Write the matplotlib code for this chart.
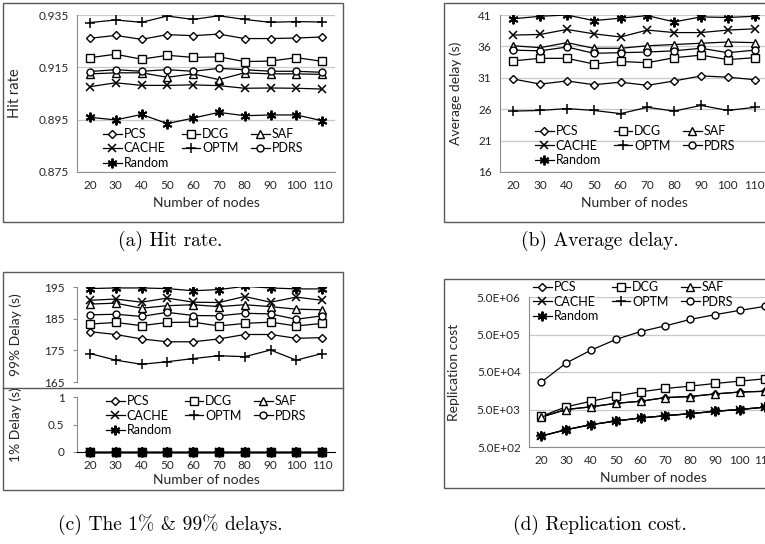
import matplotlib
matplotlib.use("Agg")
from matplotlib import pyplot as plt
from matplotlib.patches import Rectangle
from matplotlib.lines import Line2D
from matplotlib.ticker import FixedLocator, NullLocator
import numpy as np

plt.rcParams["font.family"] = ["Lato", "DejaVu Sans"]

W, H = 765, 544

nodes = [20, 30, 40, 50, 60, 70, 80, 90, 100, 110]
series = ["PCS", "DCG", "SAF", "CACHE", "OPTM", "PDRS", "Random"]

# (a) hit rate
hit_pcs = [0.9261, 0.9272, 0.9257, 0.9275, 0.9271, 0.9277, 0.9260, 0.9260, 0.9262, 0.9266]
hit_dcg = [0.9187, 0.9200, 0.9181, 0.9196, 0.9188, 0.9190, 0.9172, 0.9174, 0.9187, 0.9173]
hit_saf = [0.9125, 0.9129, 0.9129, 0.9112, 0.9125, 0.9103, 0.9129, 0.9125, 0.9125, 0.9123]
hit_cache = [0.9076, 0.9091, 0.9081, 0.9081, 0.9083, 0.9080, 0.9070, 0.9071, 0.9070, 0.9067]
hit_optm = [0.9321, 0.9331, 0.9322, 0.9346, 0.9333, 0.9347, 0.9333, 0.9322, 0.9325, 0.9323]
hit_pdrs = [0.9134, 0.9141, 0.9135, 0.9141, 0.9135, 0.9146, 0.9141, 0.9135, 0.9135, 0.9131]
hit_random = [0.8959, 0.8949, 0.8970, 0.8935, 0.8956, 0.8978, 0.8965, 0.8968, 0.8968, 0.8946]

# (b) average delay
avg_pcs = [30.8, 30.0, 30.5, 29.9, 30.3, 29.8, 30.5, 31.3, 31.1, 30.7]
avg_dcg = [33.7, 34.1, 34.1, 33.2, 33.6, 33.4, 34.2, 34.6, 33.9, 34.2]
avg_saf = [36.1, 35.8, 36.6, 35.7, 35.7, 36.1, 36.3, 36.5, 36.7, 36.6]
avg_cache = [37.8, 37.9, 38.7, 38.0, 37.5, 38.6, 38.2, 38.2, 38.6, 38.8]
avg_optm = [25.7, 25.8, 26.1, 25.8, 25.3, 26.3, 25.7, 26.6, 25.8, 26.3]
avg_pdrs = [35.4, 35.3, 35.9, 34.9, 35.0, 35.1, 35.3, 35.7, 35.0, 35.4]
avg_random = [40.4, 40.8, 41.0, 40.1, 40.5, 40.9, 39.9, 40.7, 40.6, 40.8]

# (c) 99% delay
d99_pcs = [180.9, 180.0, 178.6, 177.7, 177.7, 178.6, 180.0, 180.0, 178.8, 179.0]
d99_dcg = [183.3, 183.8, 182.8, 183.8, 183.9, 182.7, 183.5, 183.9, 182.7, 183.5]
d99_saf = [189.6, 189.9, 188.3, 189.1, 189.4, 188.8, 189.4, 188.8, 188.0, 187.8]
d99_cache = [190.8, 191.2, 190.2, 191.5, 190.2, 190.1, 192.0, 190.2, 191.8, 190.8]
d99_optm = [174.0, 171.9, 170.6, 171.4, 172.4, 173.3, 173.0, 175.1, 171.9, 174.0]
d99_pdrs = [186.2, 186.4, 185.7, 187.0, 186.0, 185.9, 186.7, 186.5, 184.8, 185.9]
d99_random = [194.5, 194.7, 194.7, 194.5, 193.8, 194.2, 195.2, 194.7, 194.4, 194.4]

# (c) 1% delay
d1_all = [0, 0, 0, 0, 0, 0, 0, 0, 0, 0]

# (d) replication cost
rep_pcs = [3150, 5000, 5900, 7300, 8300, 10400, 11100, 13000, 14600, 15300]
rep_dcg = [3300, 5900, 8300, 11300, 14800, 18200, 21000, 24700, 28500, 32900]
rep_saf = [3150, 5000, 5900, 7300, 8300, 10400, 11100, 13000, 14600, 15300]
rep_cache = [980, 1450, 1970, 2470, 2970, 3420, 3870, 4480, 5000, 5770]
rep_optm = [980, 1450, 1970, 2470, 2970, 3420, 3870, 4480, 5000, 5770]
rep_pdrs = [27000, 87000, 191000, 368000, 600000, 851000, 1260000, 1690000, 2200000, 2800000]
rep_random = [980, 1450, 1970, 2470, 2970, 3420, 3870, 4480, 5000, 5770]

markers = {
    "PCS": dict(marker="D", ms=4.5, mfc="white"),
    "DCG": dict(marker="s", ms=6, mfc="white"),
    "SAF": dict(marker="^", ms=6, mfc="white"),
    "CACHE": dict(marker="x", ms=6, mew=1.1),
    "OPTM": dict(marker="+", ms=7, mew=1.1),
    "PDRS": dict(marker="o", ms=5, mfc="white"),
    "Random": dict(marker=(6, 2, 0), ms=7, mew=1.4),
}

TXT = "#262626"
GRID = "#c8c8c8"
AXC = "#8c8c8c"


def rect(l, t, r, b):
    return [l / W, 1 - b / H, (r - l) / W, (b - t) / H]


def style(ax, grid=True):
    for s in ["top", "right"]:
        ax.spines[s].set_visible(False)
    ax.spines["left"].set_color(AXC)
    ax.spines["bottom"].set_color(AXC)
    ax.set_xlim(-0.5, 9.5)
    ax.set_xticks(range(10))
    ax.set_xticklabels([str(n) for n in nodes])
    ax.tick_params(axis="both", length=0, labelsize=8.5, colors=TXT, pad=6)
    if grid:
        ax.yaxis.grid(True, color=GRID, lw=0.9)
        ax.set_axisbelow(True)


def draw(ax, data, clip=True):
    for name, vals in zip(series, data):
        ax.plot(range(10), vals, color="black", lw=0.9, mec="black",
                clip_on=clip, label=name, **markers[name])


def legend(ax, x, y):
    h, l = ax.get_legend_handles_labels()
    order = [0, 3, 6, 1, 4, 2, 5]
    ax.legend([h[i] for i in order], [l[i] for i in order], ncol=3,
              loc="upper left", bbox_to_anchor=(x / W, 1 - y / H),
              bbox_transform=fig.transFigure, frameon=False, fontsize=9,
              handlelength=1.5, handletextpad=0.15, columnspacing=1.0,
              labelspacing=0.2, borderpad=0, borderaxespad=0)


fig = plt.figure(figsize=(W / 100, H / 100), dpi=100)

# frames
for (l, t, r, b) in [(3, 3, 343, 222), (444, 3, 790, 222),
                     (3, 272, 343, 490), (444, 279, 790, 488)]:
    fig.add_artist(Rectangle((l / W, 1 - b / H), (r - l) / W, (b - t) / H,
                             transform=fig.transFigure, fill=False,
                             ec="#595959", lw=1.0))

# (a)
ax = fig.add_axes(rect(77, 15, 335, 172))
draw(ax, [hit_pcs, hit_dcg, hit_saf, hit_cache, hit_optm, hit_pdrs, hit_random])
style(ax)
ax.set_ylim(0.875, 0.935)
ax.set_yticks([0.875, 0.895, 0.915, 0.935])
ax.set_yticklabels(["0.875", "0.895", "0.915", "0.935"])
ax.set_ylabel("Hit rate", fontsize=10.5, color=TXT)
ax.yaxis.set_label_coords((22 - 77) / 258, 0.5)
ax.set_xlabel("Number of nodes", fontsize=10, color=TXT, labelpad=4)
legend(ax, 103, 128)

# (b)
ax = fig.add_axes(rect(500, 15, 768, 172))
draw(ax, [avg_pcs, avg_dcg, avg_saf, avg_cache, avg_optm, avg_pdrs, avg_random])
style(ax)
ax.set_ylim(16, 41)
ax.set_yticks([16, 21, 26, 31, 36, 41])
ax.set_ylabel("Average delay (s)", fontsize=10, color=TXT)
ax.yaxis.set_label_coords((462 - 500) / 268, 0.5)
ax.set_xlabel("Number of nodes", fontsize=10, color=TXT, labelpad=4)
legend(ax, 535, 125)

# (c) upper
ax = fig.add_axes(rect(77, 287, 335, 382))
draw(ax, [d99_pcs, d99_dcg, d99_saf, d99_cache, d99_optm, d99_pdrs, d99_random])
style(ax, grid=False)
ax.spines["bottom"].set_visible(False)
ax.set_xticks([])
ax.set_ylim(165, 195)
ax.set_yticks([165, 175, 185, 195])
ax.tick_params(axis="y", length=3, color=AXC, direction="out")
ax.set_ylabel("99% Delay (s)", fontsize=10, color=TXT)
ax.yaxis.set_label_coords((22 - 77) / 258, 0.5)
fig.add_artist(Line2D([3 / W, 343 / W], [1 - 388 / H, 1 - 388 / H],
                      transform=fig.transFigure, color="#595959", lw=1.0))

# (c) lower
ax = fig.add_axes(rect(77, 397, 335, 452))
draw(ax, [d1_all] * 7, clip=False)
style(ax, grid=False)
ax.spines["bottom"].set_color("black")
ax.set_ylim(0, 1)
ax.set_yticks([0, 0.5, 1])
ax.set_yticklabels(["0", "0.5", "1"])
ax.tick_params(axis="y", length=3, color=AXC, direction="out")
ax.set_ylabel("1% Delay (s)", fontsize=10, color=TXT)
ax.yaxis.set_label_coords((22 - 77) / 258, 0.5)
ax.set_xlabel("Number of nodes", fontsize=10, color=TXT, labelpad=2)
legend(ax, 106, 395)

# (d)
ax = fig.add_axes(rect(529, 297, 777, 447))
draw(ax, [rep_pcs, rep_dcg, rep_saf, rep_cache, rep_optm, rep_pdrs, rep_random])
style(ax)
ax.set_yscale("log")
ax.set_ylim(5e2, 5e6)
ax.yaxis.set_major_locator(FixedLocator([5e2, 5e3, 5e4, 5e5, 5e6]))
ax.yaxis.set_minor_locator(NullLocator())
ax.set_yticklabels(["5.0E+02", "5.0E+03", "5.0E+04", "5.0E+05", "5.0E+06"])
ax.set_ylabel("Replication cost", fontsize=10, color=TXT)
ax.yaxis.set_label_coords((460 - 529) / 248, 0.5)
ax.set_xlabel("Number of nodes", fontsize=10, color=TXT, labelpad=4)
legend(ax, 533, 281)

# captions
cap = dict(fontsize=14, family=["cmr10", "DejaVu Serif"], ha="center", va="center")
fig.text(170 / W, 1 - 241 / H, "(a) Hit rate.", **cap)
fig.text(600 / W, 1 - 241 / H, "(b) Average delay.", **cap)
fig.text(170 / W, 1 - 525 / H, "(c) The 1% & 99% delays.", **cap)
fig.text(600 / W, 1 - 525 / H, "(d) Replication cost.", **cap)

fig.savefig("out.png", dpi=100)
